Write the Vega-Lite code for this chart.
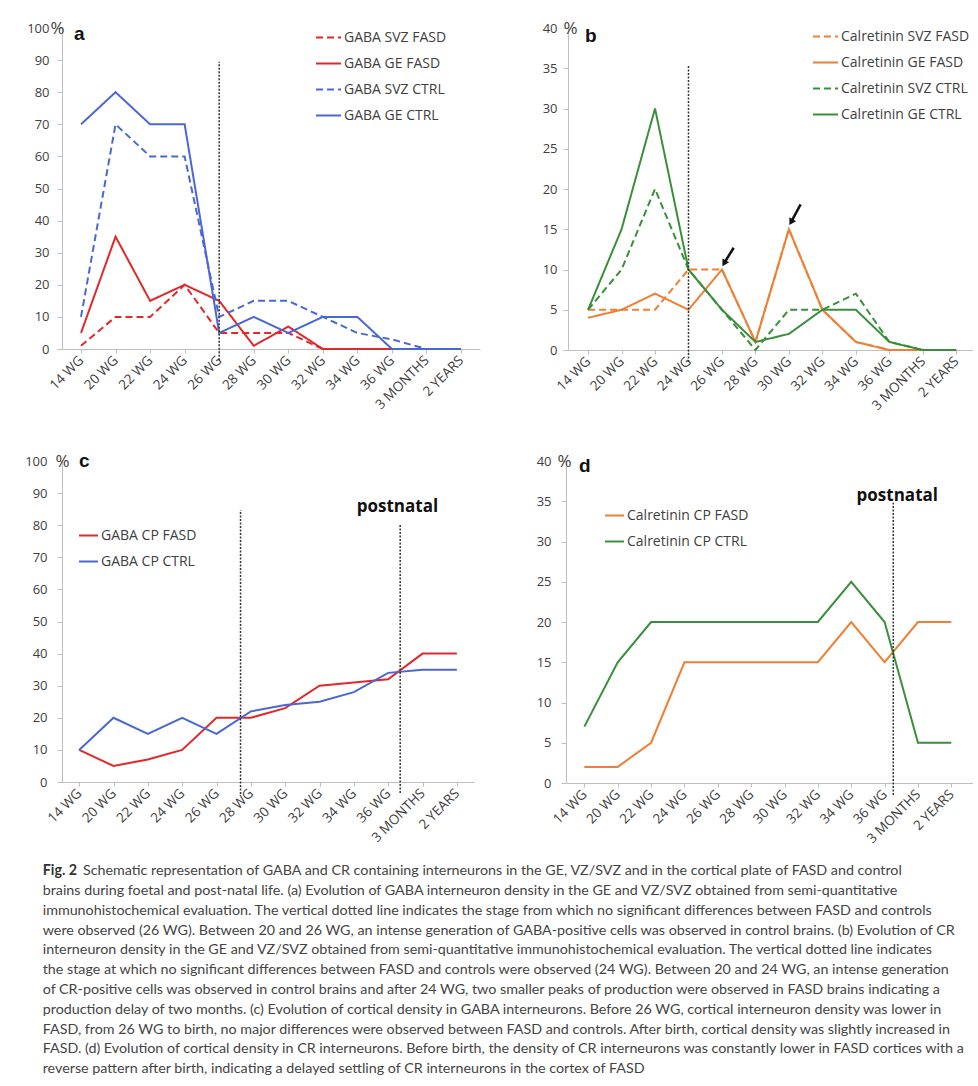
{
  "$schema": "https://vega.github.io/schema/vega-lite/v6.json",
  "background": "white",
  "padding": {"left": 24, "top": 19, "right": 0, "bottom": 0},
  "datasets": {
    "a": [
      {"series": "GABA SVZ FASD", "stage": "14 WG", "i": 0, "value": 1},
      {"series": "GABA SVZ FASD", "stage": "20 WG", "i": 1, "value": 10},
      {"series": "GABA SVZ FASD", "stage": "22 WG", "i": 2, "value": 10},
      {"series": "GABA SVZ FASD", "stage": "24 WG", "i": 3, "value": 20},
      {"series": "GABA SVZ FASD", "stage": "26 WG", "i": 4, "value": 5},
      {"series": "GABA SVZ FASD", "stage": "28 WG", "i": 5, "value": 5},
      {"series": "GABA SVZ FASD", "stage": "30 WG", "i": 6, "value": 5},
      {"series": "GABA SVZ FASD", "stage": "32 WG", "i": 7, "value": 0},
      {"series": "GABA SVZ FASD", "stage": "34 WG", "i": 8, "value": 0},
      {"series": "GABA SVZ FASD", "stage": "36 WG", "i": 9, "value": 0},
      {"series": "GABA SVZ FASD", "stage": "3 MONTHS", "i": 10, "value": 0},
      {"series": "GABA SVZ FASD", "stage": "2 YEARS", "i": 11, "value": 0},
      {"series": "GABA GE FASD", "stage": "14 WG", "i": 0, "value": 5},
      {"series": "GABA GE FASD", "stage": "20 WG", "i": 1, "value": 35},
      {"series": "GABA GE FASD", "stage": "22 WG", "i": 2, "value": 15},
      {"series": "GABA GE FASD", "stage": "24 WG", "i": 3, "value": 20},
      {"series": "GABA GE FASD", "stage": "26 WG", "i": 4, "value": 15},
      {"series": "GABA GE FASD", "stage": "28 WG", "i": 5, "value": 1},
      {"series": "GABA GE FASD", "stage": "30 WG", "i": 6, "value": 7},
      {"series": "GABA GE FASD", "stage": "32 WG", "i": 7, "value": 0},
      {"series": "GABA GE FASD", "stage": "34 WG", "i": 8, "value": 0},
      {"series": "GABA GE FASD", "stage": "36 WG", "i": 9, "value": 0},
      {"series": "GABA GE FASD", "stage": "3 MONTHS", "i": 10, "value": 0},
      {"series": "GABA GE FASD", "stage": "2 YEARS", "i": 11, "value": 0},
      {"series": "GABA SVZ CTRL", "stage": "14 WG", "i": 0, "value": 10},
      {"series": "GABA SVZ CTRL", "stage": "20 WG", "i": 1, "value": 70},
      {"series": "GABA SVZ CTRL", "stage": "22 WG", "i": 2, "value": 60},
      {"series": "GABA SVZ CTRL", "stage": "24 WG", "i": 3, "value": 60},
      {"series": "GABA SVZ CTRL", "stage": "26 WG", "i": 4, "value": 10},
      {"series": "GABA SVZ CTRL", "stage": "28 WG", "i": 5, "value": 15},
      {"series": "GABA SVZ CTRL", "stage": "30 WG", "i": 6, "value": 15},
      {"series": "GABA SVZ CTRL", "stage": "32 WG", "i": 7, "value": 10},
      {"series": "GABA SVZ CTRL", "stage": "34 WG", "i": 8, "value": 5},
      {"series": "GABA SVZ CTRL", "stage": "36 WG", "i": 9, "value": 3},
      {"series": "GABA SVZ CTRL", "stage": "3 MONTHS", "i": 10, "value": 0},
      {"series": "GABA SVZ CTRL", "stage": "2 YEARS", "i": 11, "value": 0},
      {"series": "GABA GE CTRL", "stage": "14 WG", "i": 0, "value": 70},
      {"series": "GABA GE CTRL", "stage": "20 WG", "i": 1, "value": 80},
      {"series": "GABA GE CTRL", "stage": "22 WG", "i": 2, "value": 70},
      {"series": "GABA GE CTRL", "stage": "24 WG", "i": 3, "value": 70},
      {"series": "GABA GE CTRL", "stage": "26 WG", "i": 4, "value": 5},
      {"series": "GABA GE CTRL", "stage": "28 WG", "i": 5, "value": 10},
      {"series": "GABA GE CTRL", "stage": "30 WG", "i": 6, "value": 5},
      {"series": "GABA GE CTRL", "stage": "32 WG", "i": 7, "value": 10},
      {"series": "GABA GE CTRL", "stage": "34 WG", "i": 8, "value": 10},
      {"series": "GABA GE CTRL", "stage": "36 WG", "i": 9, "value": 0},
      {"series": "GABA GE CTRL", "stage": "3 MONTHS", "i": 10, "value": 0},
      {"series": "GABA GE CTRL", "stage": "2 YEARS", "i": 11, "value": 0}
    ],
    "b": [
      {"series": "Calretinin SVZ FASD", "stage": "14 WG", "i": 0, "value": 5},
      {"series": "Calretinin SVZ FASD", "stage": "20 WG", "i": 1, "value": 5},
      {"series": "Calretinin SVZ FASD", "stage": "22 WG", "i": 2, "value": 5},
      {"series": "Calretinin SVZ FASD", "stage": "24 WG", "i": 3, "value": 10},
      {"series": "Calretinin SVZ FASD", "stage": "26 WG", "i": 4, "value": 10},
      {"series": "Calretinin SVZ FASD", "stage": "28 WG", "i": 5, "value": 1},
      {"series": "Calretinin SVZ FASD", "stage": "30 WG", "i": 6, "value": 15},
      {"series": "Calretinin SVZ FASD", "stage": "32 WG", "i": 7, "value": 5},
      {"series": "Calretinin SVZ FASD", "stage": "34 WG", "i": 8, "value": 1},
      {"series": "Calretinin SVZ FASD", "stage": "36 WG", "i": 9, "value": 0},
      {"series": "Calretinin SVZ FASD", "stage": "3 MONTHS", "i": 10, "value": 0},
      {"series": "Calretinin SVZ FASD", "stage": "2 YEARS", "i": 11, "value": 0},
      {"series": "Calretinin GE FASD", "stage": "14 WG", "i": 0, "value": 4},
      {"series": "Calretinin GE FASD", "stage": "20 WG", "i": 1, "value": 5},
      {"series": "Calretinin GE FASD", "stage": "22 WG", "i": 2, "value": 7},
      {"series": "Calretinin GE FASD", "stage": "24 WG", "i": 3, "value": 5},
      {"series": "Calretinin GE FASD", "stage": "26 WG", "i": 4, "value": 10},
      {"series": "Calretinin GE FASD", "stage": "28 WG", "i": 5, "value": 1},
      {"series": "Calretinin GE FASD", "stage": "30 WG", "i": 6, "value": 15},
      {"series": "Calretinin GE FASD", "stage": "32 WG", "i": 7, "value": 5},
      {"series": "Calretinin GE FASD", "stage": "34 WG", "i": 8, "value": 1},
      {"series": "Calretinin GE FASD", "stage": "36 WG", "i": 9, "value": 0},
      {"series": "Calretinin GE FASD", "stage": "3 MONTHS", "i": 10, "value": 0},
      {"series": "Calretinin GE FASD", "stage": "2 YEARS", "i": 11, "value": 0},
      {"series": "Calretinin SVZ CTRL", "stage": "14 WG", "i": 0, "value": 5},
      {"series": "Calretinin SVZ CTRL", "stage": "20 WG", "i": 1, "value": 10},
      {"series": "Calretinin SVZ CTRL", "stage": "22 WG", "i": 2, "value": 20},
      {"series": "Calretinin SVZ CTRL", "stage": "24 WG", "i": 3, "value": 10},
      {"series": "Calretinin SVZ CTRL", "stage": "26 WG", "i": 4, "value": 5},
      {"series": "Calretinin SVZ CTRL", "stage": "28 WG", "i": 5, "value": 0},
      {"series": "Calretinin SVZ CTRL", "stage": "30 WG", "i": 6, "value": 5},
      {"series": "Calretinin SVZ CTRL", "stage": "32 WG", "i": 7, "value": 5},
      {"series": "Calretinin SVZ CTRL", "stage": "34 WG", "i": 8, "value": 7},
      {"series": "Calretinin SVZ CTRL", "stage": "36 WG", "i": 9, "value": 1},
      {"series": "Calretinin SVZ CTRL", "stage": "3 MONTHS", "i": 10, "value": 0},
      {"series": "Calretinin SVZ CTRL", "stage": "2 YEARS", "i": 11, "value": 0},
      {"series": "Calretinin GE CTRL", "stage": "14 WG", "i": 0, "value": 5},
      {"series": "Calretinin GE CTRL", "stage": "20 WG", "i": 1, "value": 15},
      {"series": "Calretinin GE CTRL", "stage": "22 WG", "i": 2, "value": 30},
      {"series": "Calretinin GE CTRL", "stage": "24 WG", "i": 3, "value": 10},
      {"series": "Calretinin GE CTRL", "stage": "26 WG", "i": 4, "value": 5},
      {"series": "Calretinin GE CTRL", "stage": "28 WG", "i": 5, "value": 1},
      {"series": "Calretinin GE CTRL", "stage": "30 WG", "i": 6, "value": 2},
      {"series": "Calretinin GE CTRL", "stage": "32 WG", "i": 7, "value": 5},
      {"series": "Calretinin GE CTRL", "stage": "34 WG", "i": 8, "value": 5},
      {"series": "Calretinin GE CTRL", "stage": "36 WG", "i": 9, "value": 1},
      {"series": "Calretinin GE CTRL", "stage": "3 MONTHS", "i": 10, "value": 0},
      {"series": "Calretinin GE CTRL", "stage": "2 YEARS", "i": 11, "value": 0}
    ],
    "c": [
      {"series": "GABA CP FASD", "stage": "14 WG", "i": 0, "value": 10},
      {"series": "GABA CP FASD", "stage": "20 WG", "i": 1, "value": 5},
      {"series": "GABA CP FASD", "stage": "22 WG", "i": 2, "value": 7},
      {"series": "GABA CP FASD", "stage": "24 WG", "i": 3, "value": 10},
      {"series": "GABA CP FASD", "stage": "26 WG", "i": 4, "value": 20},
      {"series": "GABA CP FASD", "stage": "28 WG", "i": 5, "value": 20},
      {"series": "GABA CP FASD", "stage": "30 WG", "i": 6, "value": 23},
      {"series": "GABA CP FASD", "stage": "32 WG", "i": 7, "value": 30},
      {"series": "GABA CP FASD", "stage": "34 WG", "i": 8, "value": 31},
      {"series": "GABA CP FASD", "stage": "36 WG", "i": 9, "value": 32},
      {"series": "GABA CP FASD", "stage": "3 MONTHS", "i": 10, "value": 40},
      {"series": "GABA CP FASD", "stage": "2 YEARS", "i": 11, "value": 40},
      {"series": "GABA CP CTRL", "stage": "14 WG", "i": 0, "value": 10},
      {"series": "GABA CP CTRL", "stage": "20 WG", "i": 1, "value": 20},
      {"series": "GABA CP CTRL", "stage": "22 WG", "i": 2, "value": 15},
      {"series": "GABA CP CTRL", "stage": "24 WG", "i": 3, "value": 20},
      {"series": "GABA CP CTRL", "stage": "26 WG", "i": 4, "value": 15},
      {"series": "GABA CP CTRL", "stage": "28 WG", "i": 5, "value": 22},
      {"series": "GABA CP CTRL", "stage": "30 WG", "i": 6, "value": 24},
      {"series": "GABA CP CTRL", "stage": "32 WG", "i": 7, "value": 25},
      {"series": "GABA CP CTRL", "stage": "34 WG", "i": 8, "value": 28},
      {"series": "GABA CP CTRL", "stage": "36 WG", "i": 9, "value": 34},
      {"series": "GABA CP CTRL", "stage": "3 MONTHS", "i": 10, "value": 35},
      {"series": "GABA CP CTRL", "stage": "2 YEARS", "i": 11, "value": 35}
    ],
    "d": [
      {"series": "Calretinin CP FASD", "stage": "14 WG", "i": 0, "value": 2},
      {"series": "Calretinin CP FASD", "stage": "20 WG", "i": 1, "value": 2},
      {"series": "Calretinin CP FASD", "stage": "22 WG", "i": 2, "value": 5},
      {"series": "Calretinin CP FASD", "stage": "24 WG", "i": 3, "value": 15},
      {"series": "Calretinin CP FASD", "stage": "26 WG", "i": 4, "value": 15},
      {"series": "Calretinin CP FASD", "stage": "28 WG", "i": 5, "value": 15},
      {"series": "Calretinin CP FASD", "stage": "30 WG", "i": 6, "value": 15},
      {"series": "Calretinin CP FASD", "stage": "32 WG", "i": 7, "value": 15},
      {"series": "Calretinin CP FASD", "stage": "34 WG", "i": 8, "value": 20},
      {"series": "Calretinin CP FASD", "stage": "36 WG", "i": 9, "value": 15},
      {"series": "Calretinin CP FASD", "stage": "3 MONTHS", "i": 10, "value": 20},
      {"series": "Calretinin CP FASD", "stage": "2 YEARS", "i": 11, "value": 20},
      {"series": "Calretinin CP CTRL", "stage": "14 WG", "i": 0, "value": 7},
      {"series": "Calretinin CP CTRL", "stage": "20 WG", "i": 1, "value": 15},
      {"series": "Calretinin CP CTRL", "stage": "22 WG", "i": 2, "value": 20},
      {"series": "Calretinin CP CTRL", "stage": "24 WG", "i": 3, "value": 20},
      {"series": "Calretinin CP CTRL", "stage": "26 WG", "i": 4, "value": 20},
      {"series": "Calretinin CP CTRL", "stage": "28 WG", "i": 5, "value": 20},
      {"series": "Calretinin CP CTRL", "stage": "30 WG", "i": 6, "value": 20},
      {"series": "Calretinin CP CTRL", "stage": "32 WG", "i": 7, "value": 20},
      {"series": "Calretinin CP CTRL", "stage": "34 WG", "i": 8, "value": 25},
      {"series": "Calretinin CP CTRL", "stage": "36 WG", "i": 9, "value": 20},
      {"series": "Calretinin CP CTRL", "stage": "3 MONTHS", "i": 10, "value": 5},
      {"series": "Calretinin CP CTRL", "stage": "2 YEARS", "i": 11, "value": 5}
    ],
    "a_rule": [{"i": 4, "y1": -3.5, "y2": 89.5}],
    "b_rule": [{"i": 3, "y1": -1.5, "y2": 35.3}],
    "b_arrow": [
      {"x": 4.35, "y": 12.7, "x2": 4.08, "y2": 10.9},
      {"x": 6.35, "y": 18.1, "x2": 6.08, "y2": 16.0}
    ],
    "c_rule": [{"i": 4.7, "y1": -3.7, "y2": 84.7}, {"i": 9.35, "y1": -3.4, "y2": 80.4}],
    "c_text": [{"i": 9.27, "y": 85.6, "label": "postnatal"}],
    "d_rule": [{"i": 9.26, "y1": -1.5, "y2": 34.8}],
    "d_text": [{"i": 9.38, "y": 35.6, "label": "postnatal"}]
  },
  "config": {
    "view": {"stroke": null},
    "font": "Open Sans",
    "axis": {"domainColor": "#bfbfbf", "tickColor": "#bfbfbf", "labelColor": "#404040", "labelFont": "Open Sans", "grid": false, "titleFont": "Open Sans", "labelOverlap": false},
    "axisX": {"labelAngle": -45, "labelAlign": "right", "labelBaseline": "middle", "labelFontSize": 13.5, "tickSize": 4, "labelPadding": 5},
    "axisY": {"labelFontSize": 13, "tickSize": 5, "titleAngle": 0, "titleAlign": "left", "titleBaseline": "middle", "titleY": 0, "titleFontSize": 17, "titleFontWeight": "normal", "titleColor": "#404040"},
    "legend": {"orient": "none", "title": null, "labelFont": "Open Sans", "labelFontSize": 14, "labelColor": "#404040", "symbolType": "stroke", "symbolStrokeWidth": 2, "rowPadding": 5, "labelOffset": 2, "padding": 0, "labelLimit": 300},
    "title": {"frame": "group", "anchor": "start", "fontSize": 19, "fontWeight": "bold", "font": "Liberation Sans", "color": "#111111"}
  },
  "resolve": {"scale": {"color": "independent", "strokeDash": "independent"}, "legend": {"color": "independent", "strokeDash": "independent"}},
  "spacing": 39,
  "vconcat": [
    {
      "spacing": 62,
      "resolve": {"scale": {"color": "independent", "strokeDash": "independent"}, "legend": {"color": "independent", "strokeDash": "independent"}},
      "hconcat": [
        {
          "width": 418, "height": 321,
          "title": {"text": "a", "dx": 12, "offset": -25},
          "layer": [
            {
              "data": {"name": "a"},
              "mark": {"type": "line", "strokeWidth": 2},
              "encoding": {
                "x": {"field": "i", "type": "quantitative", "scale": {"domain": [-0.55, 11.55], "nice": false, "zero": false},
                      "axis": {"title": null, "tickCount": 40, "labelOverlap": false, "values": [0,1,2,3,4,5,6,7,8,9,10,11], "labelExpr": "['14 WG','20 WG','22 WG','24 WG','26 WG','28 WG','30 WG','32 WG','34 WG','36 WG','3 MONTHS','2 YEARS'][datum.value]"}},
                "y": {"field": "value", "type": "quantitative", "scale": {"domain": [0, 100], "nice": false},
                      "axis": {"title": "%", "titleX": -12, "tickCount": 40, "labelOverlap": false, "values": [0,10,20,30,40,50,60,70,80,90,100], "labelPadding": 8}},
                "color": {"field": "series", "type": "nominal",
                          "scale": {"domain": ["GABA SVZ FASD", "GABA GE FASD", "GABA SVZ CTRL", "GABA GE CTRL"], "range": ["#e3282b", "#e3282b", "#4a68d4", "#4a68d4"]},
                          "legend": {"legendX": 253, "legendY": -4, "symbolSize": 625}},
                "strokeDash": {"field": "series", "type": "nominal",
                          "scale": {"domain": ["GABA SVZ FASD", "GABA GE FASD", "GABA SVZ CTRL", "GABA GE CTRL"], "range": [[7, 4], [1, 0], [7, 4], [1, 0]]},
                          "legend": {"legendX": 253, "legendY": -4, "symbolSize": 625}}
              }
            },
            {
              "data": {"name": "a_rule"},
              "mark": {"type": "rule", "strokeDash": [2, 1.5], "strokeWidth": 1.5, "color": "#333333"},
              "encoding": {"x": {"field": "i", "type": "quantitative"}, "y": {"field": "y1", "type": "quantitative"}, "y2": {"field": "y2"}}
            }
          ]
        },
        {
          "width": 405, "height": 322,
          "title": {"text": "b", "dx": 17, "offset": -27},
          "layer": [
            {
              "data": {"name": "b"},
              "mark": {"type": "line", "strokeWidth": 2},
              "encoding": {
                "x": {"field": "i", "type": "quantitative", "scale": {"domain": [-0.6, 11.5], "nice": false, "zero": false},
                      "axis": {"title": null, "tickCount": 40, "labelOverlap": false, "values": [0,1,2,3,4,5,6,7,8,9,10,11], "labelExpr": "['14 WG','20 WG','22 WG','24 WG','26 WG','28 WG','30 WG','32 WG','34 WG','36 WG','3 MONTHS','2 YEARS'][datum.value]"}},
                "y": {"field": "value", "type": "quantitative", "scale": {"domain": [0, 40], "nice": false},
                      "axis": {"title": "%", "titleX": -5, "tickCount": 40, "labelOverlap": false, "values": [0,5,10,15,20,25,30,35,40], "labelPadding": 6}},
                "color": {"field": "series", "type": "nominal",
                          "scale": {"domain": ["Calretinin SVZ FASD", "Calretinin GE FASD", "Calretinin SVZ CTRL", "Calretinin GE CTRL"], "range": ["#ef7f33", "#ef7f33", "#3a8f3a", "#3a8f3a"]},
                          "legend": {"legendX": 244, "legendY": -5, "symbolSize": 625}},
                "strokeDash": {"field": "series", "type": "nominal",
                          "scale": {"domain": ["Calretinin SVZ FASD", "Calretinin GE FASD", "Calretinin SVZ CTRL", "Calretinin GE CTRL"], "range": [[7, 4], [1, 0], [7, 4], [1, 0]]},
                          "legend": {"legendX": 244, "legendY": -5, "symbolSize": 625}}
              }
            },
            {
              "data": {"name": "b_rule"},
              "mark": {"type": "rule", "strokeDash": [2, 1.5], "strokeWidth": 1.5, "color": "#333333"},
              "encoding": {"x": {"field": "i", "type": "quantitative"}, "y": {"field": "y1", "type": "quantitative"}, "y2": {"field": "y2"}}
            },
            {
              "data": {"name": "b_arrow"},
              "mark": {"type": "rule", "strokeWidth": 2.5, "color": "#111111"},
              "encoding": {"x": {"field": "x", "type": "quantitative"}, "y": {"field": "y", "type": "quantitative"}, "x2": {"field": "x2"}, "y2": {"field": "y2"}}
            },
            {
              "data": {"name": "b_arrow"},
              "mark": {"type": "point", "shape": "triangle", "filled": true, "size": 60, "angle": 210, "color": "#111111", "opacity": 1},
              "encoding": {"x": {"field": "x2", "type": "quantitative"}, "y": {"field": "y2", "type": "quantitative"}}
            }
          ]
        }
      ]
    },
    {
      "spacing": 62,
      "resolve": {"scale": {"color": "independent", "strokeDash": "independent"}, "legend": {"color": "independent", "strokeDash": "independent"}},
      "hconcat": [
        {
          "width": 412, "height": 321,
          "title": {"text": "c", "dx": 17, "offset": -19},
          "layer": [
            {
              "data": {"name": "c"},
              "mark": {"type": "line", "strokeWidth": 2},
              "encoding": {
                "x": {"field": "i", "type": "quantitative", "scale": {"domain": [-0.5, 11.5], "nice": false, "zero": false},
                      "axis": {"title": null, "tickCount": 40, "labelOverlap": false, "values": [0,1,2,3,4,5,6,7,8,9,10,11], "labelExpr": "['14 WG','20 WG','22 WG','24 WG','26 WG','28 WG','30 WG','32 WG','34 WG','36 WG','3 MONTHS','2 YEARS'][datum.value]"}},
                "y": {"field": "value", "type": "quantitative", "scale": {"domain": [0, 100], "nice": false},
                      "axis": {"title": "%", "titleX": -7, "tickCount": 40, "labelOverlap": false, "values": [0,10,20,30,40,50,60,70,80,90,100], "labelPadding": 10}},
                "color": {"field": "series", "type": "nominal",
                          "scale": {"domain": ["GABA CP FASD", "GABA CP CTRL"], "range": ["#e3282b", "#4a68d4"]},
                          "legend": {"legendX": 16, "legendY": 64, "symbolSize": 361, "rowPadding": 8}}
              }
            },
            {
              "data": {"name": "c_rule"},
              "mark": {"type": "rule", "strokeDash": [2, 1.5], "strokeWidth": 1.5, "color": "#333333"},
              "encoding": {"x": {"field": "i", "type": "quantitative"}, "y": {"field": "y1", "type": "quantitative"}, "y2": {"field": "y2"}}
            },
            {
              "data": {"name": "c_text"},
              "mark": {"type": "text", "font": "Open Sans", "fontWeight": "bold", "fontSize": 17, "color": "#111111", "baseline": "middle", "align": "center"},
              "encoding": {"x": {"field": "i", "type": "quantitative"}, "y": {"field": "y", "type": "quantitative"}, "text": {"field": "label"}}
            }
          ]
        },
        {
          "width": 407, "height": 322,
          "title": {"text": "d", "dx": 13, "offset": -24},
          "layer": [
            {
              "data": {"name": "d"},
              "mark": {"type": "line", "strokeWidth": 2},
              "encoding": {
                "x": {"field": "i", "type": "quantitative", "scale": {"domain": [-0.55, 11.65], "nice": false, "zero": false},
                      "axis": {"title": null, "tickCount": 40, "labelOverlap": false, "values": [0,1,2,3,4,5,6,7,8,9,10,11], "labelExpr": "['14 WG','20 WG','22 WG','24 WG','26 WG','28 WG','30 WG','32 WG','34 WG','36 WG','3 MONTHS','2 YEARS'][datum.value]"}},
                "y": {"field": "value", "type": "quantitative", "scale": {"domain": [0, 40], "nice": false},
                      "axis": {"title": "%", "titleX": -9, "tickCount": 40, "labelOverlap": false, "values": [0,5,10,15,20,25,30,35,40], "labelPadding": 10}},
                "color": {"field": "series", "type": "nominal",
                          "scale": {"domain": ["Calretinin CP FASD", "Calretinin CP CTRL"], "range": ["#ef7f33", "#3a8f3a"]},
                          "legend": {"legendX": 38, "legendY": 44, "symbolSize": 361, "rowPadding": 8}}
              }
            },
            {
              "data": {"name": "d_rule"},
              "mark": {"type": "rule", "strokeDash": [2, 1.5], "strokeWidth": 1.5, "color": "#333333"},
              "encoding": {"x": {"field": "i", "type": "quantitative"}, "y": {"field": "y1", "type": "quantitative"}, "y2": {"field": "y2"}}
            },
            {
              "data": {"name": "d_text"},
              "mark": {"type": "text", "font": "Open Sans", "fontWeight": "bold", "fontSize": 17, "color": "#111111", "baseline": "middle", "align": "center"},
              "encoding": {"x": {"field": "i", "type": "quantitative"}, "y": {"field": "y", "type": "quantitative"}, "text": {"field": "label"}}
            }
          ]
        }
      ]
    }
  ],
  "title": {
    "text": "Fig. 2",
    "subtitle": [
      "\u200b\u00a0\u00a0\u00a0\u00a0\u00a0\u00a0\u00a0\u00a0\u00a0\u00a0\u00a0Schematic representation of GABA and CR containing interneurons in the GE, VZ/SVZ and in the cortical plate of FASD and control",
      "brains during foetal and post-natal life. (a) Evolution of GABA interneuron density in the GE and VZ/SVZ obtained from semi-quantitative",
      "immunohistochemical evaluation. The vertical dotted line indicates the stage from which no significant differences between FASD and controls",
      "were observed (26 WG). Between 20 and 26 WG, an intense generation of GABA-positive cells was observed in control brains. (b) Evolution of CR",
      "interneuron density in the GE and VZ/SVZ obtained from semi-quantitative immunohistochemical evaluation. The vertical dotted line indicates",
      "the stage at which no significant differences between FASD and controls were observed (24 WG). Between 20 and 24 WG, an intense generation",
      "of CR-positive cells was observed in control brains and after 24 WG, two smaller peaks of production were observed in FASD brains indicating a",
      "production delay of two months. (c) Evolution of cortical density in GABA interneurons. Before 26 WG, cortical interneuron density was lower in",
      "FASD, from 26 WG to birth, no major differences were observed between FASD and controls. After birth, cortical density was slightly increased in",
      "FASD. (d) Evolution of cortical density in CR interneurons. Before birth, the density of CR interneurons was constantly lower in FASD cortices with a",
      "reverse pattern after birth, indicating a delayed settling of CR interneurons in the cortex of FASD"
    ],
    "orient": "bottom",
    "anchor": "start",
    "frame": "bounds",
    "dx": 18,
    "offset": 19,
    "font": "Lato",
    "fontSize": 14.3,
    "fontWeight": "bold",
    "color": "#333333",
    "subtitleFont": "Lato",
    "subtitleFontSize": 14.3,
    "subtitleColor": "#444444",
    "subtitleLineHeight": 19.8,
    "subtitlePadding": -14.3
  }
}
